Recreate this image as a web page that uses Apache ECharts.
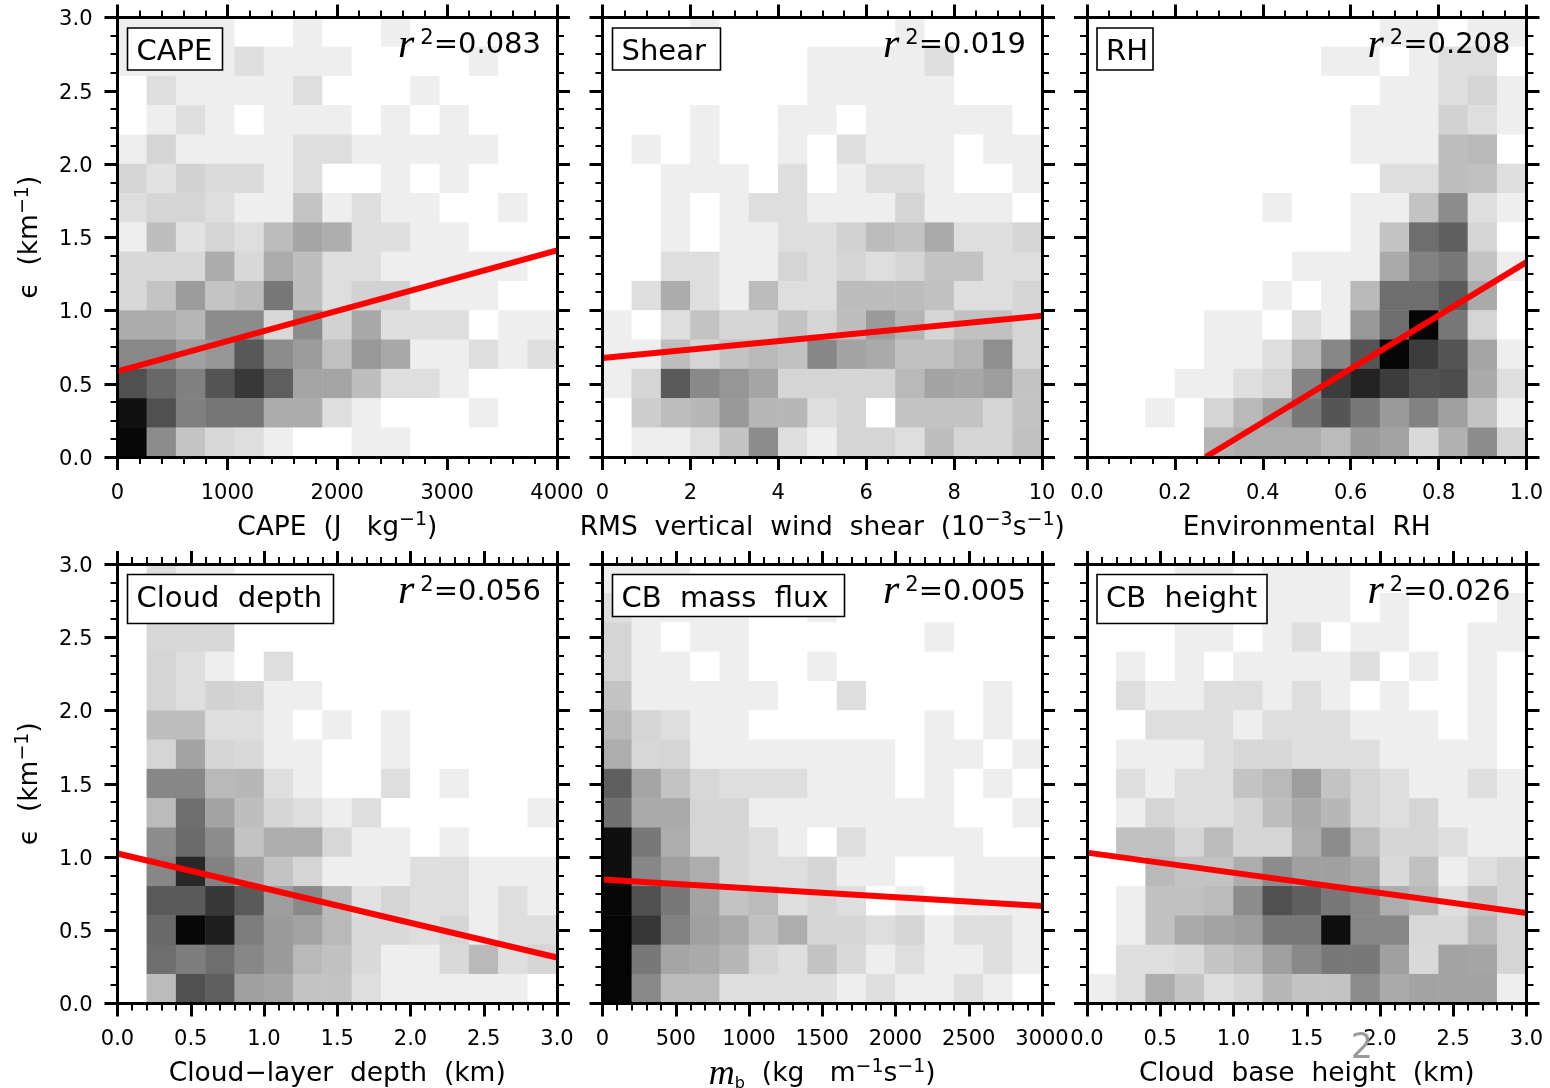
<!DOCTYPE html>
<html>
<head>
<meta charset="utf-8">
<style>html,body{margin:0;padding:0;background:#fff}#c{width:1550px;height:1088px}</style>
<script src="https://cdn.jsdelivr.net/npm/echarts@6/dist/echarts.min.js"></script>
</head>
<body>
<div id="c"></div>
<script>
// Binned frequency (0 = white ... 255 = black). Rows run from epsilon 3.0 (top) to 0.0 (bottom).
const capeCells = [
[17,17,17,17,0,0,17,0,0,17,0,0,0,0,0],
[17,17,17,17,33,17,17,17,0,0,0,0,17,0,0],
[0,33,17,17,17,17,33,0,0,0,17,0,0,0,0],
[0,17,33,17,0,17,17,17,0,17,0,17,0,0,0],
[17,42,17,17,17,17,33,33,17,17,17,17,17,0,0],
[42,29,45,36,36,17,33,0,0,17,0,17,0,0,0],
[33,42,42,33,17,17,59,17,33,17,17,0,0,17,0],
[17,65,29,42,33,67,90,81,33,33,17,17,0,0,0],
[39,39,39,83,39,83,65,33,33,17,17,17,17,17,0],
[39,59,99,59,67,135,65,33,45,45,17,17,17,0,0],
[83,83,73,115,115,39,115,45,87,33,33,33,0,17,17],
[119,119,95,105,167,115,99,63,103,87,17,17,33,17,33],
[175,151,127,171,199,161,91,91,65,33,33,17,0,0,0],
[239,175,127,137,137,83,83,33,17,0,0,0,17,0,0],
[247,115,59,39,33,17,0,0,17,17,0,0,0,0,0]];
const shearCells = [
[0,0,0,17,0,0,0,0,0,0,17,0,0,0,0],
[0,0,0,0,0,0,0,17,17,17,17,33,0,0,0],
[0,0,0,0,0,0,0,17,17,17,17,17,0,0,0],
[0,0,0,17,0,0,17,17,0,17,17,17,17,17,0],
[0,17,0,17,0,0,17,0,33,17,17,17,0,17,17],
[0,0,17,17,17,0,33,0,17,33,33,17,0,0,17],
[0,0,17,0,17,33,33,17,17,17,42,17,17,17,0],
[0,0,17,0,17,17,33,33,45,67,60,85,33,33,42],
[0,0,33,33,17,17,42,33,42,33,42,60,60,33,33],
[0,33,83,33,17,67,33,33,67,67,67,62,33,33,42],
[17,0,33,60,42,42,60,42,65,100,75,42,62,62,42],
[17,17,65,42,60,70,62,120,92,85,62,62,75,112,42],
[17,42,165,118,105,90,42,42,42,42,70,92,88,98,60],
[0,50,65,72,102,72,72,33,42,0,60,60,60,42,60],
[0,17,17,33,60,115,33,17,42,42,33,65,42,42,62]];
const rhCells = [
[0,0,0,0,0,0,0,0,0,0,17,17,0,17,17],
[0,0,0,0,0,0,0,0,17,17,0,17,33,33,0],
[0,0,0,0,0,0,0,0,0,0,17,17,33,42,17],
[0,0,0,0,0,0,0,0,0,17,17,17,45,33,17],
[0,0,0,0,0,0,0,0,0,17,17,17,65,70,0],
[0,0,0,0,0,0,0,0,0,0,33,33,65,62,33],
[0,0,0,0,0,0,17,0,0,17,17,60,115,33,17],
[0,0,0,0,0,0,0,0,0,17,60,145,160,42,0],
[0,0,0,0,0,0,0,17,17,17,85,125,135,60,17],
[0,0,0,0,0,0,17,0,17,70,145,145,165,85,0],
[0,0,0,0,17,17,0,33,17,103,145,250,135,42,0],
[0,0,0,0,17,17,33,70,120,170,250,195,170,90,17],
[0,0,0,17,17,33,42,122,195,220,195,175,178,85,33],
[0,0,17,0,42,70,95,135,170,135,100,125,95,60,17],
[0,0,0,0,75,82,82,82,68,100,92,38,78,115,42]];
const depthCells = [
[0,33,17,17,0,0,0,0,0,0,0,0,0,0,0],
[0,33,17,17,0,0,0,0,0,0,0,0,0,0,0],
[0,40,40,40,0,0,0,0,0,0,0,0,0,0,0],
[0,42,33,17,0,33,0,0,0,0,0,0,0,0,0],
[0,42,33,45,42,17,17,0,0,0,0,0,0,0,0],
[0,65,65,33,33,17,0,17,0,17,0,0,0,0,0],
[0,42,92,42,38,17,17,0,0,17,0,0,0,0,0],
[0,120,120,70,72,33,17,0,0,33,0,17,0,0,0],
[0,68,145,92,65,42,33,17,33,0,0,0,0,0,17],
[0,115,148,115,60,82,82,40,17,17,0,17,0,0,0],
[0,120,215,125,92,60,42,17,17,17,33,33,17,17,17],
[0,165,165,200,165,98,118,70,30,42,33,33,17,33,17],
[0,150,247,225,130,100,92,70,38,38,33,42,17,33,33],
[0,145,130,145,120,100,70,62,38,17,17,38,70,33,42],
[0,68,175,160,95,90,60,60,33,17,17,17,17,17,0]];
const fluxCells = [
[17,17,17,0,0,0,0,0,0,0,0,0,0,0,0],
[33,17,17,17,17,0,0,17,0,0,0,0,0,0,0],
[42,17,0,17,17,0,0,0,0,0,0,17,0,0,0],
[42,17,17,0,17,0,0,17,0,0,0,0,0,0,0],
[60,17,17,17,17,17,0,0,33,0,0,0,0,17,0],
[70,42,33,17,17,0,0,0,0,0,0,17,0,17,0],
[82,40,42,17,17,17,17,17,17,17,0,17,17,0,17],
[160,90,60,40,33,33,33,17,17,17,0,17,0,17,0],
[142,85,85,42,42,17,17,17,17,17,17,17,0,0,17],
[240,135,82,42,42,33,17,0,33,17,17,17,17,0,0],
[240,120,95,82,42,33,33,42,17,17,0,0,17,17,17],
[248,175,135,92,60,68,33,42,33,0,17,0,17,17,17],
[250,200,125,95,85,62,82,42,42,33,42,17,33,33,17],
[250,135,90,85,72,42,33,60,38,17,33,17,17,33,17],
[250,118,68,68,33,33,33,33,17,33,17,17,33,17,0]];
const baseCells = [
[0,0,0,17,17,0,17,17,17,0,0,0,0,0,0],
[0,0,0,17,17,17,17,17,17,0,17,0,0,0,17],
[0,0,0,17,17,0,17,33,0,17,17,0,0,17,17],
[0,17,0,17,0,17,17,17,17,33,0,17,0,17,0],
[0,33,17,17,33,33,17,33,17,0,17,0,0,17,0],
[0,0,33,33,33,17,33,33,33,17,17,17,0,17,0],
[0,17,17,17,33,40,40,33,33,33,17,17,17,17,0],
[0,33,17,33,33,60,70,98,60,42,33,17,17,33,17],
[0,17,42,33,33,42,65,85,72,42,33,42,17,17,17],
[0,62,62,42,68,42,42,82,115,68,42,42,33,17,17],
[0,0,70,60,60,82,115,95,95,85,38,62,17,33,42],
[0,17,62,62,68,115,175,160,135,120,82,70,33,60,42],
[0,17,62,85,92,98,135,135,240,120,120,40,40,70,42],
[0,33,33,38,58,68,95,118,135,135,95,38,92,90,42],
[17,33,82,58,33,42,72,60,60,115,85,92,92,92,17]];

const panelCells = [capeCells, shearCells, rhCells, depthCells, fluxCells, baseCells];
const panelTags = ['CAPE', 'Shear', 'RH', 'Cloud  depth', 'CB  mass  flux', 'CB  height'];
const rSquared = ['0.083', '0.019', '0.208', '0.056', '0.005', '0.026'];
const xMax = [4000, 10, 1.0, 3.0, 3000, 3.0];
const xInterval = [1000, 2, 0.2, 0.5, 500, 0.5];
const xMinorSplit = [5, 4, 4, 5, 5, 5];
const xDecimals = [0, 0, 1, 1, 0, 1];
const xNames = [
  '{t|CAPE  (J   kg}{s|−1}{t|)}',
  '{t|RMS  vertical  wind  shear  (10}{s|−3}{t|s}{s|−1}{t|)}',
  '{t|Environmental  RH}',
  '{t|Cloud−layer  depth  (km)}',
  '{m|m}{b|b}{t|  (kg   m}{s|−1}{t|s}{s|−1}{t|)}',
  '{t|Cloud  base  height  (km)}'
];
const yName = '{t|ϵ  (km}{s|−1}{t|)}';
const fitX = [[0, 4000], [0, 10], [0.27, 1.0], [0, 3], [0, 3000], [0, 3]];
const fitY = [[0.585, 1.41], [0.676, 0.964], [0, 1.33], [1.024, 0.314], [0.846, 0.666], [1.03, 0.618]];
const yMax = 3.0, yInterval = 0.5, yMinorSplit = 4;
const binCount = 15;

const gridLeft = [117.5, 602.5, 1087];
const gridTop = [17.5, 564];
const gridSize = 439.5;
const tagW = [95, 108, 56, 206, 232, 170];
const tagH = [42, 42, 42, 49, 42, 49];
const tagDX = 10;

const FONT = '"DejaVu Sans"';
const nameRich = {
  t: {fontFamily: FONT, fontSize: 26.5, color: '#000', lineHeight: 34},
  s: {fontFamily: FONT, fontSize: 19, color: '#000', lineHeight: 19, verticalAlign: 'top'},
  m: {fontFamily: '"Liberation Serif"', fontStyle: 'italic', fontSize: 36, color: '#000', lineHeight: 34},
  b: {fontFamily: FONT, fontSize: 16, color: '#000', lineHeight: 16, verticalAlign: 'bottom'}
};

const grid = [], xAxis = [], yAxis = [], series = [], graphic = [];
const heatIdx = [];
const bins = Array.from({length: binCount}, (_, i) => i);

function valueAxisBase(gi, max, interval, split) {
  return {
    type: 'value', gridIndex: gi, min: 0, max, interval, z: 10, silent: true,
    splitLine: {show: false},
    axisLine: {show: true, onZero: false, lineStyle: {color: '#000', width: 3}},
    axisTick: {show: true, inside: false, length: 13, lineStyle: {color: '#000', width: 3}},
    minorTick: {show: true, splitNumber: split, length: 7, lineStyle: {color: '#000', width: 2}},
    minorSplitLine: {show: false}
  };
}

panelCells.forEach((cells, i) => {
  const col = i % 3, row = Math.floor(i / 3);
  grid.push({left: gridLeft[col], top: gridTop[row], width: gridSize, height: gridSize, show: false,
    outerBoundsMode: 'none'});

  const dec = xDecimals[i];
  xAxis.push(Object.assign(valueAxisBase(i, xMax[i], xInterval[i], xMinorSplit[i]), {
    position: 'bottom',
    axisLabel: {show: true, margin: 26, fontFamily: FONT, fontSize: 21, color: '#000',
      hideOverlap: false, showMinLabel: true, showMaxLabel: true,
      formatter: v => v.toFixed(dec)},
    name: xNames[i], nameLocation: 'middle', nameGap: 54,
    nameTextStyle: {rich: nameRich}
  }));
  xAxis.push(Object.assign(valueAxisBase(i, xMax[i], xInterval[i], xMinorSplit[i]), {
    position: 'top', axisLabel: {show: false}
  }));
  xAxis.push({type: 'category', gridIndex: i, data: bins, show: false});

  yAxis.push(Object.assign(valueAxisBase(i, yMax, yInterval, yMinorSplit), {
    position: 'left',
    axisLabel: {show: col === 0, margin: 25, color: '#000',
      showMinLabel: true, showMaxLabel: true, formatter: v => '{v|' + v.toFixed(1) + '}',
      rich: {v: {fontFamily: FONT, fontSize: 21, color: '#000', padding: [5, 0, 0, 0]}}},
    name: col === 0 ? yName : '', nameLocation: 'middle', nameGap: 70, nameRotate: 90,
    nameTextStyle: {rich: nameRich}
  }));
  yAxis.push(Object.assign(valueAxisBase(i, yMax, yInterval, yMinorSplit), {
    position: 'right', axisLabel: {show: false}
  }));
  yAxis.push({type: 'category', gridIndex: i, data: bins, show: false});

  const data = [];
  cells.forEach((rowVals, r) => rowVals.forEach((v, c) => data.push([c, binCount - 1 - r, v])));
  heatIdx.push(series.length);
  series.push({type: 'heatmap', xAxisIndex: 3 * i + 2, yAxisIndex: 3 * i + 2, data, z: 1, silent: true,
    progressive: 0, itemStyle: {borderWidth: 0}, emphasis: {disabled: true}});
  series.push({type: 'line', xAxisIndex: 3 * i, yAxisIndex: 3 * i, z: 3, silent: true, symbol: 'none',
    clip: true, lineStyle: {color: '#ff0000', width: 6, cap: 'butt'},
    data: fitX[i].map((x, k) => [x, fitY[i][k]])});

  const L = gridLeft[col], T = gridTop[row];
  graphic.push({type: 'rect', z: 20, silent: true,
    shape: {x: L + tagDX, y: T + 10.5, width: tagW[i], height: tagH[i]},
    style: {fill: '#fff', stroke: '#000', lineWidth: 1.6}});
  graphic.push({type: 'text', z: 21, silent: true,
    style: {x: L + tagDX + 9, y: T + 11 + 24, text: panelTags[i], fontFamily: FONT, fontSize: 29,
      fill: '#000', align: 'left', verticalAlign: 'middle'}});
  graphic.push({type: 'text', z: 21, silent: true,
    style: {x: L + gridSize - 16, y: T + 28, align: 'right', verticalAlign: 'middle',
      text: '{i|r}{s|2}{n|=' + rSquared[i] + '}',
      rich: {
        i: {fontFamily: '"Liberation Serif"', fontStyle: 'italic', fontSize: 42, lineHeight: 34, fill: '#000', padding: [0, 6, 0, 0]},
        s: {fontFamily: FONT, fontSize: 21, lineHeight: 21, fill: '#000', verticalAlign: 'top'},
        n: {fontFamily: FONT, fontSize: 29, lineHeight: 34, fill: '#000'}
      }}});
});

graphic.push({type: 'text', z: 30, silent: true,
  style: {x: 1362, y: 1049, text: '2', fontFamily: FONT, fontSize: 35, fill: '#9a9a9a',
    align: 'center', verticalAlign: 'middle'}});

const chart = echarts.init(document.getElementById('c'), null, {renderer: 'canvas'});
chart.setOption({
  backgroundColor: '#fff', animation: false, tooltip: {show: false},
  grid, xAxis, yAxis, series, graphic,
  visualMap: [{show: false, type: 'continuous', min: 0, max: 255, seriesIndex: heatIdx, dimension: 2,
    inRange: {color: ['#ffffff', '#000000']}}]
});
</script>
</body>
</html>
